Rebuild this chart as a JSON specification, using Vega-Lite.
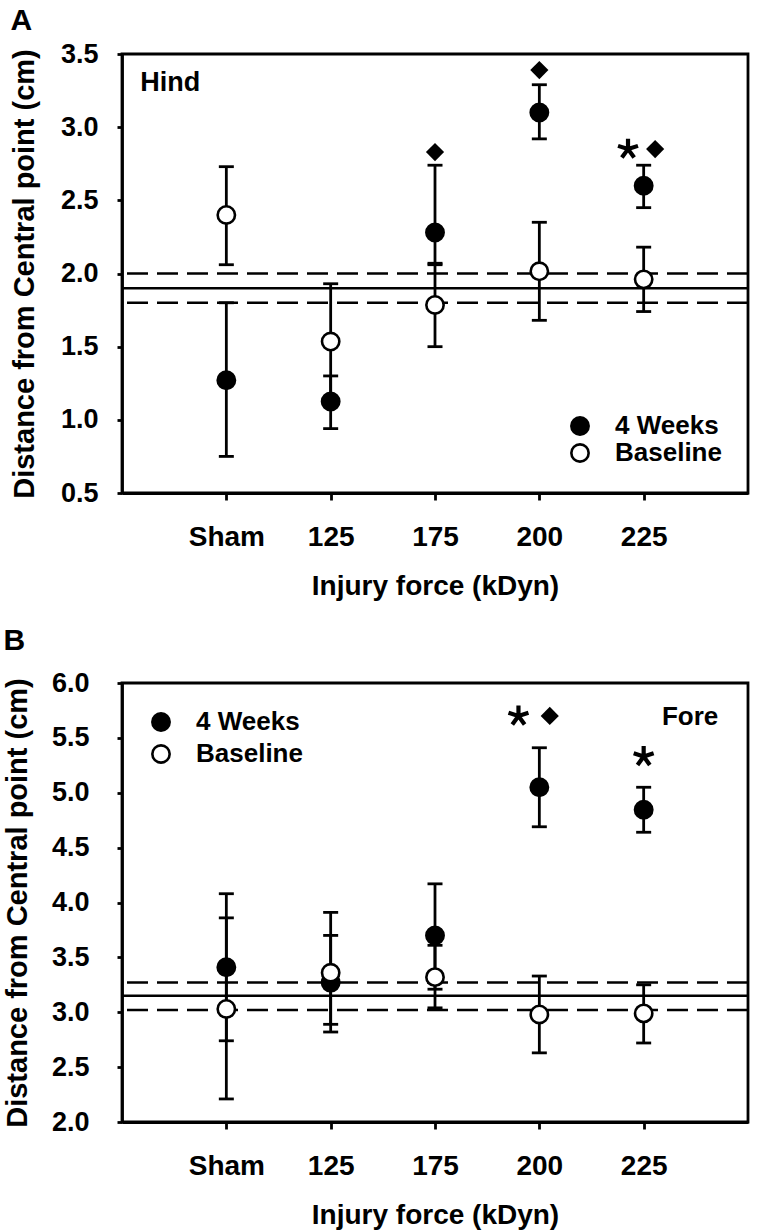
{
  "$schema": "https://vega.github.io/schema/vega-lite/v6.json",
  "padding": {"left": 2, "top": 4, "right": 0, "bottom": 0},
  "background": "white",
  "align": "none",
  "datasets": {
    "pts": [
      {"panel": "A", "time": "4 Weeks", "x": 1, "force": "Sham", "y": 1.27, "lo": 0.75, "hi": 1.80},
      {"panel": "A", "time": "4 Weeks", "x": 2, "force": "125", "y": 1.125, "lo": 0.94, "hi": 1.30},
      {"panel": "A", "time": "4 Weeks", "x": 3, "force": "175", "y": 2.28, "lo": 2.06, "hi": 2.74},
      {"panel": "A", "time": "4 Weeks", "x": 4, "force": "200", "y": 3.10, "lo": 2.92, "hi": 3.29},
      {"panel": "A", "time": "4 Weeks", "x": 5, "force": "225", "y": 2.60, "lo": 2.45, "hi": 2.74},
      {"panel": "A", "time": "Baseline", "x": 1, "force": "Sham", "y": 2.40, "lo": 2.06, "hi": 2.73},
      {"panel": "A", "time": "Baseline", "x": 2, "force": "125", "y": 1.535, "lo": 1.14, "hi": 1.93},
      {"panel": "A", "time": "Baseline", "x": 3, "force": "175", "y": 1.785, "lo": 1.50, "hi": 2.07},
      {"panel": "A", "time": "Baseline", "x": 4, "force": "200", "y": 2.015, "lo": 1.68, "hi": 2.35},
      {"panel": "A", "time": "Baseline", "x": 5, "force": "225", "y": 1.96, "lo": 1.74, "hi": 2.18},
      {"panel": "B", "time": "4 Weeks", "x": 1, "force": "Sham", "y": 3.41, "lo": 2.74, "hi": 4.08},
      {"panel": "B", "time": "4 Weeks", "x": 2, "force": "125", "y": 3.27, "lo": 2.89, "hi": 3.70},
      {"panel": "B", "time": "4 Weeks", "x": 3, "force": "175", "y": 3.70, "lo": 3.21, "hi": 4.17},
      {"panel": "B", "time": "4 Weeks", "x": 4, "force": "200", "y": 5.05, "lo": 4.69, "hi": 5.41},
      {"panel": "B", "time": "4 Weeks", "x": 5, "force": "225", "y": 4.845, "lo": 4.64, "hi": 5.05},
      {"panel": "B", "time": "Baseline", "x": 1, "force": "Sham", "y": 3.03, "lo": 2.21, "hi": 3.86},
      {"panel": "B", "time": "Baseline", "x": 2, "force": "125", "y": 3.36, "lo": 2.82, "hi": 3.91},
      {"panel": "B", "time": "Baseline", "x": 3, "force": "175", "y": 3.32, "lo": 3.04, "hi": 3.61},
      {"panel": "B", "time": "Baseline", "x": 4, "force": "200", "y": 2.98, "lo": 2.63, "hi": 3.33},
      {"panel": "B", "time": "Baseline", "x": 5, "force": "225", "y": 2.99, "lo": 2.72, "hi": 3.25}
    ],
    "refs": [
      {"panel": "A", "kind": "mean", "y": 1.9},
      {"panel": "A", "kind": "sd", "y": 2.0},
      {"panel": "A", "kind": "sd", "y": 1.8},
      {"panel": "B", "kind": "mean", "y": 3.15},
      {"panel": "B", "kind": "sd", "y": 3.27},
      {"panel": "B", "kind": "sd", "y": 3.02}
    ],
    "marks": [
      {"panel": "A", "sym": "diamond", "x": 3.0, "y": 2.83},
      {"panel": "A", "sym": "diamond", "x": 4.0, "y": 3.39},
      {"panel": "A", "sym": "asterisk", "x": 4.85, "y": 2.85},
      {"panel": "A", "sym": "diamond", "x": 5.11, "y": 2.85},
      {"panel": "B", "sym": "asterisk", "x": 3.8, "y": 5.70},
      {"panel": "B", "sym": "diamond", "x": 4.1, "y": 5.70},
      {"panel": "B", "sym": "asterisk", "x": 5.0, "y": 5.33}
    ],
    "labels": [
      {"panel": "A", "label": "Hind", "x": 0.175, "y": 3.30},
      {"panel": "B", "label": "Fore", "x": 5.445, "y": 5.69}
    ]
  },
  "config": {
    "font": "Liberation Sans",
    "view": {"stroke": "black", "strokeWidth": 2.8},
    "axis": {
      "grid": false, "domainColor": "black", "domainWidth": 2.8,
      "tickColor": "black", "tickWidth": 2.8,
      "labelColor": "black", "titleColor": "black",
      "labelFont": "Liberation Sans", "titleFont": "Liberation Sans",
      "labelFontWeight": "bold", "titleFontWeight": "bold"
    },
    "legend": {
      "labelFont": "Liberation Sans", "labelFontWeight": "bold", "labelFontSize": 26,
      "labelColor": "black", "symbolSize": 300, "symbolStrokeColor": "black",
      "symbolStrokeWidth": 2.6, "symbolType": "circle", "labelOffset": 22
    },
    "title": {"anchor": "start", "frame": "bounds", "fontSize": 30, "font": "Liberation Sans", "fontWeight": "bold", "color": "black"}
  },
  "resolve": {"legend": {"fill": "independent"}, "scale": {"y": "independent", "x": "independent", "fill": "independent"}},
  "spacing": 22,
  "vconcat": [
    {
      "width": 626, "height": 439,
      "title": {"text": "A", "offset": 4},
      "layer": [
        {
          "data": {"name": "refs"},
          "transform": [{"filter": "datum.panel === 'A'"}],
          "mark": {"type": "rule", "color": "black", "strokeWidth": 2.5},
          "encoding": {
            "y": {"field": "y", "type": "quantitative",
              "scale": {"domain": [0.5, 3.5], "nice": false, "zero": false},
              "axis": {"title": "Distance from Central point (cm)", "values": [0.5, 1, 1.5, 2, 2.5, 3, 3.5], "format": ".1f",
                "tickSize": 5, "labelPadding": 19, "labelFontSize": 27, "titleFontSize": 29, "titlePadding": 21}},
            "strokeDash": {"field": "kind", "type": "nominal", "scale": {"domain": ["mean", "sd"], "range": [[1, 0], [21, 9]]}, "legend": null}
          }
        },
        {
          "data": {"name": "pts"},
          "transform": [{"filter": "datum.panel === 'A'"}],
          "mark": {"type": "rule", "color": "black", "strokeWidth": 2.8},
          "encoding": {
            "x": {"field": "x", "type": "quantitative",
              "scale": {"domain": [0, 6], "nice": false, "zero": false},
              "axis": {"title": "Injury force (kDyn)", "values": [1, 2, 3, 4, 5],
                "labelExpr": "['', 'Sham', '125', '175', '200', '225'][datum.value]",
                "tickSize": 7, "labelPadding": 23, "labelFontSize": 28, "titleFontSize": 28, "titlePadding": 21}},
            "y": {"field": "lo", "type": "quantitative", "scale": {"domain": [0.5, 3.5], "nice": false, "zero": false}},
            "y2": {"field": "hi"}
          }
        },
        {
          "data": {"name": "pts"},
          "transform": [{"filter": "datum.panel === 'A'"}],
          "mark": {"type": "tick", "orient": "horizontal", "color": "black", "size": 15, "thickness": 2.8, "opacity": 1},
          "encoding": {
            "x": {"field": "x", "type": "quantitative", "scale": {"domain": [0, 6], "nice": false, "zero": false}},
            "y": {"field": "lo", "type": "quantitative", "scale": {"domain": [0.5, 3.5], "nice": false, "zero": false}}
          }
        },
        {
          "data": {"name": "pts"},
          "transform": [{"filter": "datum.panel === 'A'"}],
          "mark": {"type": "tick", "orient": "horizontal", "color": "black", "size": 15, "thickness": 2.8, "opacity": 1},
          "encoding": {
            "x": {"field": "x", "type": "quantitative", "scale": {"domain": [0, 6], "nice": false, "zero": false}},
            "y": {"field": "hi", "type": "quantitative", "scale": {"domain": [0.5, 3.5], "nice": false, "zero": false}}
          }
        },
        {
          "data": {"name": "pts"},
          "transform": [{"filter": "datum.panel === 'A'"}],
          "mark": {"type": "point", "shape": "circle", "filled": true, "stroke": "black", "strokeWidth": 2.6, "size": 300, "opacity": 1},
          "encoding": {
            "x": {"field": "x", "type": "quantitative", "scale": {"domain": [0, 6], "nice": false, "zero": false}},
            "y": {"field": "y", "type": "quantitative", "scale": {"domain": [0.5, 3.5], "nice": false, "zero": false}},
            "fill": {"field": "time", "type": "nominal", "scale": {"domain": ["4 Weeks", "Baseline"], "range": ["black", "white"]},
              "legend": {"orient": "bottom-right", "title": null, "offset": 26, "rowPadding": -3}}
          }
        },
        {
          "data": {"name": "marks"},
          "transform": [{"filter": "datum.panel === 'A' && datum.sym === 'diamond'"}],
          "mark": {"type": "point", "shape": "diamond", "filled": true, "color": "black", "size": 330, "opacity": 1},
          "encoding": {
            "x": {"field": "x", "type": "quantitative", "scale": {"domain": [0, 6], "nice": false, "zero": false}},
            "y": {"field": "y", "type": "quantitative", "scale": {"domain": [0.5, 3.5], "nice": false, "zero": false}}
          }
        },
        {
          "data": {"name": "marks"},
          "transform": [{"filter": "datum.panel === 'A' && datum.sym === 'asterisk'"}],
          "mark": {"type": "point", "shape": "M0,0L0,-1M0,0L0.951,-0.309M0,0L0.588,0.809M0,0L-0.588,0.809M0,0L-0.951,-0.309", "filled": false, "stroke": "black", "strokeWidth": 4.2, "size": 440, "opacity": 1},
          "encoding": {
            "x": {"field": "x", "type": "quantitative", "scale": {"domain": [0, 6], "nice": false, "zero": false}},
            "y": {"field": "y", "type": "quantitative", "scale": {"domain": [0.5, 3.5], "nice": false, "zero": false}}
          }
        },
        {
          "data": {"name": "labels"},
          "transform": [{"filter": "datum.panel === 'A'"}],
          "mark": {"type": "text", "align": "left", "baseline": "middle", "fontSize": 27, "fontWeight": "bold", "color": "black"},
          "encoding": {
            "x": {"field": "x", "type": "quantitative", "scale": {"domain": [0, 6], "nice": false, "zero": false}},
            "y": {"field": "y", "type": "quantitative", "scale": {"domain": [0.5, 3.5], "nice": false, "zero": false}},
            "text": {"field": "label"}
          }
        }
      ]
    },
    {
      "width": 626, "height": 439,
      "title": {"text": "B", "offset": 13},
      "layer": [
        {
          "data": {"name": "refs"},
          "transform": [{"filter": "datum.panel === 'B'"}],
          "mark": {"type": "rule", "color": "black", "strokeWidth": 2.5},
          "encoding": {
            "y": {"field": "y", "type": "quantitative",
              "scale": {"domain": [2, 6], "nice": false, "zero": false},
              "axis": {"title": "Distance from Central point (cm)", "values": [2, 2.5, 3, 3.5, 4, 4.5, 5, 5.5, 6], "format": ".1f",
                "tickSize": 5, "labelPadding": 28, "labelFontSize": 27, "titleFontSize": 29, "titlePadding": 19}},
            "strokeDash": {"field": "kind", "type": "nominal", "scale": {"domain": ["mean", "sd"], "range": [[1, 0], [21, 9]]}, "legend": null}
          }
        },
        {
          "data": {"name": "pts"},
          "transform": [{"filter": "datum.panel === 'B'"}],
          "mark": {"type": "rule", "color": "black", "strokeWidth": 2.8},
          "encoding": {
            "x": {"field": "x", "type": "quantitative",
              "scale": {"domain": [0, 6], "nice": false, "zero": false},
              "axis": {"title": "Injury force (kDyn)", "values": [1, 2, 3, 4, 5],
                "labelExpr": "['', 'Sham', '125', '175', '200', '225'][datum.value]",
                "tickSize": 7, "labelPadding": 23, "labelFontSize": 28, "titleFontSize": 28, "titlePadding": 21}},
            "y": {"field": "lo", "type": "quantitative", "scale": {"domain": [2, 6], "nice": false, "zero": false}},
            "y2": {"field": "hi"}
          }
        },
        {
          "data": {"name": "pts"},
          "transform": [{"filter": "datum.panel === 'B'"}],
          "mark": {"type": "tick", "orient": "horizontal", "color": "black", "size": 15, "thickness": 2.8, "opacity": 1},
          "encoding": {
            "x": {"field": "x", "type": "quantitative", "scale": {"domain": [0, 6], "nice": false, "zero": false}},
            "y": {"field": "lo", "type": "quantitative", "scale": {"domain": [2, 6], "nice": false, "zero": false}}
          }
        },
        {
          "data": {"name": "pts"},
          "transform": [{"filter": "datum.panel === 'B'"}],
          "mark": {"type": "tick", "orient": "horizontal", "color": "black", "size": 15, "thickness": 2.8, "opacity": 1},
          "encoding": {
            "x": {"field": "x", "type": "quantitative", "scale": {"domain": [0, 6], "nice": false, "zero": false}},
            "y": {"field": "hi", "type": "quantitative", "scale": {"domain": [2, 6], "nice": false, "zero": false}}
          }
        },
        {
          "data": {"name": "pts"},
          "transform": [{"filter": "datum.panel === 'B'"}],
          "mark": {"type": "point", "shape": "circle", "filled": true, "stroke": "black", "strokeWidth": 2.6, "size": 300, "opacity": 1},
          "encoding": {
            "x": {"field": "x", "type": "quantitative", "scale": {"domain": [0, 6], "nice": false, "zero": false}},
            "y": {"field": "y", "type": "quantitative", "scale": {"domain": [2, 6], "nice": false, "zero": false}},
            "fill": {"field": "time", "type": "nominal", "scale": {"domain": ["4 Weeks", "Baseline"], "range": ["black", "white"]},
              "legend": {"orient": "top-left", "title": null, "offset": 26, "rowPadding": 4}}
          }
        },
        {
          "data": {"name": "marks"},
          "transform": [{"filter": "datum.panel === 'B' && datum.sym === 'diamond'"}],
          "mark": {"type": "point", "shape": "diamond", "filled": true, "color": "black", "size": 330, "opacity": 1},
          "encoding": {
            "x": {"field": "x", "type": "quantitative", "scale": {"domain": [0, 6], "nice": false, "zero": false}},
            "y": {"field": "y", "type": "quantitative", "scale": {"domain": [2, 6], "nice": false, "zero": false}}
          }
        },
        {
          "data": {"name": "marks"},
          "transform": [{"filter": "datum.panel === 'B' && datum.sym === 'asterisk'"}],
          "mark": {"type": "point", "shape": "M0,0L0,-1M0,0L0.951,-0.309M0,0L0.588,0.809M0,0L-0.588,0.809M0,0L-0.951,-0.309", "filled": false, "stroke": "black", "strokeWidth": 4.2, "size": 440, "opacity": 1},
          "encoding": {
            "x": {"field": "x", "type": "quantitative", "scale": {"domain": [0, 6], "nice": false, "zero": false}},
            "y": {"field": "y", "type": "quantitative", "scale": {"domain": [2, 6], "nice": false, "zero": false}}
          }
        },
        {
          "data": {"name": "labels"},
          "transform": [{"filter": "datum.panel === 'B'"}],
          "mark": {"type": "text", "align": "center", "baseline": "middle", "fontSize": 26, "fontWeight": "bold", "color": "black"},
          "encoding": {
            "x": {"field": "x", "type": "quantitative", "scale": {"domain": [0, 6], "nice": false, "zero": false}},
            "y": {"field": "y", "type": "quantitative", "scale": {"domain": [2, 6], "nice": false, "zero": false}},
            "text": {"field": "label"}
          }
        }
      ]
    }
  ]
}
